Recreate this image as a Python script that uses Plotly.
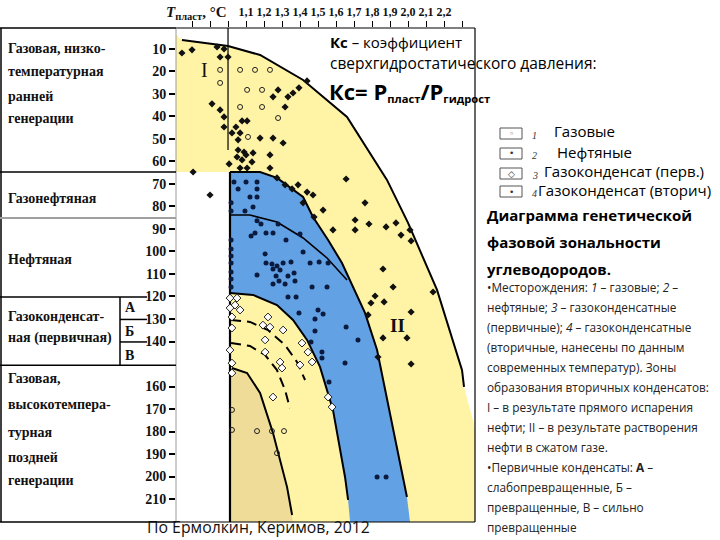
import plotly.graph_objects as go

# ---------------- data (Kc = P_pl / P_hydro, T = reservoir temperature, °C) ----------------
# zone boundaries
outer_kc = [0.700, 0.744, 1.000, 1.178, 1.417, 1.661, 1.883, 2.000, 2.161, 2.300, 2.311, 2.361, 2.420]
outer_t  = [3.0,   6.0,   8.7,   12.7,  23.8,  40.2,  68.2,  87.3,  117.1, 152.7, 160.2, 175.0, 200.0]
outer_line_n = 11

blue_kc = [1.011, 1.178, 1.272, 1.361, 1.417, 1.472, 1.556, 1.633, 1.694, 1.761, 1.828, 1.861, 1.917, 1.994, 2.011]
blue_t  = [64.7,  64.7,  67.3,  72.7,  75.8,  84.7,  94.9,  105.1, 115.8, 127.3, 143.8, 157.1, 178.0, 209.1, 220.2]
blue_line_n = 14

cond_kc = [1.011, 1.139, 1.272, 1.361, 1.439, 1.511, 1.583, 1.650, 1.667, 1.678]
cond_t  = [118.4, 119.3, 123.8, 130.4, 139.3, 151.3, 170.4, 200.2, 210.4, 220.2]
cond_line_n = 9

tan_kc = [1.022, 1.106, 1.178, 1.250, 1.328, 1.356, 1.361]
tan_t  = [151.8, 154.0, 162.9, 180.7, 204.7, 217.1, 220.2]
tan_line_n = 6

oil_div_kc = [1.011, 1.122, 1.272, 1.417, 1.550, 1.661]
oil_div_t  = [83.8,  83.8,  86.9,  94.0,  102.9, 112.7]

arc1_kc = [1.017, 1.122, 1.222, 1.317, 1.383, 1.428]
arc1_t  = [130.4, 131.3, 134.9, 141.6, 149.1, 157.1]
arc2_kc = [1.017, 1.122, 1.206, 1.272, 1.317, 1.344]
arc2_t  = [140.7, 142.0, 146.0, 152.7, 161.6, 169.6]

# deposits
gas_kc = [0.956, 0.956, 1.067, 1.150, 1.233, 1.106, 1.189, 1.067, 1.189, 1.278, 1.111,
          1.022, 1.022, 1.161, 1.244, 1.311, 1.272]
gas_t  = [19.3, 25.1, 19.3, 19.3, 19.3, 28.2, 28.2, 35.8, 35.8, 40.7, 49.1,
          170.4, 179.3, 179.8, 179.8, 179.8, 189.6]

oil_kc = [1.033, 1.100, 1.161, 1.056, 1.161, 1.122, 1.161, 1.017, 1.139, 1.094, 1.017, 1.161,
          1.183, 1.278, 1.150, 1.128, 1.211, 1.250, 1.322, 1.400, 1.017, 1.017, 1.206, 1.417,
          1.017, 1.017, 1.211, 1.244, 1.272, 1.306, 1.350, 1.456, 1.506, 1.556, 1.250, 1.289,
          1.333, 1.367, 1.161, 1.267, 1.017, 1.283, 1.372, 1.017, 1.250, 1.317, 1.467, 1.550,
          1.017, 1.333, 1.378, 1.394, 1.500, 1.528, 1.483, 1.656, 1.483, 1.722, 1.461, 1.522,
          1.522, 1.650, 1.561, 1.828, 1.878]
oil_t  = [69.1, 69.1, 69.1, 72.2, 72.2, 75.8, 75.8, 78.4, 80.2, 82.0, 82.0, 86.4,
          87.8, 87.8, 91.8, 93.1, 91.8, 91.8, 94.9, 92.2, 94.9, 98.9, 101.1, 100.2,
          102.0, 105.1, 105.1, 105.6, 106.4, 105.1, 104.7, 105.1, 104.7, 105.1, 107.8, 108.2,
          110.9, 109.6, 110.4, 110.9, 109.1, 113.1, 113.1, 112.2, 114.4, 114.4, 115.8, 115.8,
          115.8, 120.2, 120.2, 127.3, 126.0, 127.8, 130.0, 133.6, 135.3, 139.3, 140.2, 144.7,
          147.3, 149.6, 158.0, 200.2, 200.2]

prim_kc = [1.011, 1.050, 1.011, 1.039, 1.067, 1.022, 1.222, 1.194, 1.233, 1.306, 1.022, 1.206,
           1.411, 1.444, 1.206, 1.011, 1.289, 1.467, 1.022, 1.400, 1.300, 1.022, 1.556, 1.578, 1.250]
prim_t  = [120.7, 120.7, 125.1, 123.8, 126.0, 129.1, 129.1, 132.7, 133.6, 134.9, 134.0, 139.3,
           140.7, 144.7, 144.7, 143.8, 149.1, 149.1, 149.6, 150.4, 151.8, 154.0, 164.7, 169.1, 164.7]

sec_kc = [0.744, 0.800, 0.939, 0.978, 1.000, 0.956, 0.911, 0.956, 0.978, 0.978, 1.022, 1.044,
          1.078, 1.106, 1.067, 1.056, 1.178, 1.250, 1.306, 1.056, 1.050, 1.089, 1.100, 1.139,
          1.078, 1.133, 1.006, 1.067, 1.106, 1.233, 1.233, 1.278, 1.250, 1.333, 1.361, 1.394,
          1.439, 1.317, 0.806, 0.900, 1.656, 1.317, 1.356, 1.389, 1.439, 1.472, 1.272,
          1.417, 1.528, 1.478, 1.583, 1.761, 1.706, 1.783, 1.706, 1.878, 1.933, 1.961, 2.011,
          2.017, 1.861, 2.139, 1.917, 1.817, 1.794, 1.867, 2.017, 1.778, 1.994, 1.861, 1.833, 2.017]
sec_t  = [11.8, 10.4, 9.1, 10.0, 13.6, 13.6, 34.4, 37.1, 40.2, 44.7, 47.3, 44.7,
          42.0, 42.0, 47.3, 50.4, 49.6, 49.6, 51.8, 54.9, 58.0, 55.8, 57.1, 56.2,
          59.3, 60.2, 61.1, 62.9, 62.9, 57.1, 62.9, 28.2, 31.3, 31.3, 29.6, 27.3,
          24.2, 35.8, 64.7, 74.9, 67.8, 70.4, 72.2, 70.4, 73.6, 74.9, 67.3,
          78.4, 81.6, 84.7, 90.4, 78.4, 86.0, 87.8, 90.4, 89.1, 87.3, 92.7, 90.4,
          95.3, 107.8, 118.0, 115.8, 119.8, 122.9, 122.4, 126.9, 128.2, 138.4, 138.4, 146.9, 150.0]

# axis ticks
t_ticks = [10, 20, 30, 40, 50, 60, 70, 80, 90, 100, 110, 120, 130, 140, 160, 170, 180, 190, 200, 210]
kc_ticks = [1.1, 1.2, 1.3, 1.4, 1.5, 1.6, 1.7, 1.8, 1.9, 2.0, 2.1, 2.2]
kc_labels = ["1,1", "1,2", "1,3", "1,4", "1,5", "1,6", "1,7", "1,8", "1,9", "2,0", "2,1", "2,2"]
kc_minor = [0.8, 0.9, 1.0, 2.3]

# ---------------- figure ----------------
W, H = 720, 540
def px(x): return x / W
def py(y): return 1 - y / H

YELLOW = "#FFF4A6"
BLUE = "#62A1E4"
TAN = "#EEDC98"
SERIF = "Liberation Serif"
SANS = "Open Sans"

fig = go.Figure()

def add_fill(x, y, color):
    fig.add_trace(go.Scatter(x=x, y=y, mode="lines", fill="toself", fillcolor=color,
                             line=dict(width=0), hoverinfo="skip", showlegend=False))

def add_line(x, y, width=2, dash="solid"):
    fig.add_trace(go.Scatter(x=x, y=y, mode="lines", line=dict(color="black", width=width, dash=dash),
                             hoverinfo="skip", showlegend=False))

# zone fills
add_fill(outer_kc + [2.42, 1.011, 1.011, 0.70], outer_t + [225, 225, 64.7, 64.7], YELLOW)
add_fill(blue_kc + [2.011, 1.011], blue_t + [225, 225], BLUE)
add_fill(cond_kc + [1.678, 1.011], cond_t + [225, 225], YELLOW)
add_fill(tan_kc + [1.361, 1.011, 1.011], tan_t + [225, 225, 151.8], TAN)

# boundary lines
add_line(outer_kc[1:outer_line_n], outer_t[1:outer_line_n], 2)
add_line(blue_kc[:blue_line_n], blue_t[:blue_line_n], 2)
add_line(cond_kc[:cond_line_n], cond_t[:cond_line_n], 2)
add_line(tan_kc[:tan_line_n], tan_t[:tan_line_n], 2)
add_line(oil_div_kc, oil_div_t, 1.6)
add_line(arc1_kc, arc1_t, 2, "10px,6px")
add_line(arc2_kc, arc2_t, 2, "10px,6px")
add_line([1.0, 1.0], [0.0, 54.9], 1.2)
add_line([1.011, 1.011], [64.7, 220.2], 2.2)

# deposits
fig.add_trace(go.Scatter(x=gas_kc, y=gas_t, mode="markers", showlegend=False,
                         marker=dict(symbol="circle-open", size=5, color="#222", line=dict(width=1))))
fig.add_trace(go.Scatter(x=prim_kc, y=prim_t, mode="markers", showlegend=False,
                         marker=dict(symbol="diamond", size=6, color="white", line=dict(width=1, color="#222"))))
fig.add_trace(go.Scatter(x=oil_kc, y=oil_t, mode="markers", showlegend=False,
                         marker=dict(symbol="circle", size=5, color="#0B1B3F")))
fig.add_trace(go.Scatter(x=sec_kc, y=sec_t, mode="markers", showlegend=False,
                         marker=dict(symbol="diamond", size=5.5, color="#111")))

shapes = []
def hline_y(x0, x1, t, color="black", width=1.5):
    shapes.append(dict(type="line", xref="paper", yref="y", x0=px(x0), x1=px(x1), y0=t, y1=t,
                       line=dict(color=color, width=width)))
def pline(x0, y0, x1, y1, color="black", width=1.5):
    shapes.append(dict(type="line", xref="paper", yref="paper", x0=px(x0), x1=px(x1), y0=py(y0), y1=py(y1),
                       line=dict(color=color, width=width)))

# plot frame
pline(176, 28, 475, 28, width=1.2)
pline(176, 522, 475, 522, width=1.2)
pline(475, 28, 475, 522, width=1.2)
pline(176, 28, 176, 522, color="#9a9a9a", width=1)
# left table
pline(0, 28, 176, 28, width=1.5)
pline(0, 522, 176, 522, width=1.5)
pline(1, 28, 1, 522, width=1.5)
hline_y(0, 176, 64.7)
hline_y(0, 176, 85.1, color="#a0a0a0", width=2)
hline_y(0, 147, 120.2)
hline_y(120, 147, 130.2)
hline_y(120, 147, 140.2)
hline_y(0, 176, 150.6)
shapes.append(dict(type="line", xref="paper", yref="y", x0=px(120), x1=px(120), y0=120.2, y1=150.6,
                   line=dict(color="black", width=1.5)))

# legend boxes
for y0 in [128, 148, 168, 186]:
    shapes.append(dict(type="rect", xref="paper", yref="paper", x0=px(500), x1=px(522), y0=py(y0), y1=py(y0 + 11),
                       line=dict(color="#555", width=1), fillcolor="white"))

ann = []
def text(x, y, s, size, family=SANS, color="black", xanchor="left", bold=False, pad=1):
    if bold:
        s = "<b>" + s + "</b>"
    ann.append(dict(xref="paper", yref="paper", x=px(x), y=py(y), text=s, showarrow=False, borderpad=pad,
                    xanchor=xanchor, yanchor="middle", font=dict(size=size, family=family, color=color)))

# left table texts
for s, y in [("Газовая, низко-", 48), ("температурная", 72), ("ранней", 96), ("генерации", 118),
             ("Газонефтяная", 198), ("Нефтяная", 260), ("Газоконденсат-", 316), ("ная (первичная)", 338),
             ("Газовая,", 378), ("высокотемпера-", 404), ("турная", 432), ("поздней", 457), ("генерации", 480)]:
    text(6, y, s, 14, SERIF, "#111", bold=True)
for s, y in [("А", 307), ("Б", 331), ("В", 355)]:
    text(123, y, s, 14, SERIF, "#111", bold=True)

# axis title
text(164, 13, "<i>T</i><sub>пласт</sub>, °C", 15, SERIF, "#111", bold=True)

# zone labels
ann.append(dict(xref="x", yref="y", x=0.872, y=19.3, text="I", showarrow=False,
                font=dict(size=20, family=SERIF, color="#111")))
ann.append(dict(xref="x", yref="y", x=1.944, y=132.7, text="<b>II</b>", showarrow=False,
                font=dict(size=19, family=SERIF, color="#111")))

# Kc definition
text(328, 42, "<b>Кс</b> – коэффициент", 15)
text(328, 63, "сверхгидростатического давления:", 15.5)
text(327, 91, "<b>Кс= Р<span style='font-size:16px'><sub>пласт</sub></span>/Р"
              "<span style='font-size:16px'><sub>гидрост</sub></span></b>", 22)

# legend
for s, y in [("1", 135), ("2", 156), ("3", 175), ("4", 193)]:
    text(530, y, "<i>" + s + "</i>", 10, SERIF, "#333")
for s, y in [("◦", 133.5), ("•", 153.5), ("◇", 173.5), ("•", 191.5)]:
    text(511, y, s, 9, "DejaVu Sans", "#333", xanchor="center")
text(553, 131, "Газовые", 15, pad=0)
text(556, 152, "Нефтяные", 15, pad=0)
text(543, 171, "Газоконденсат (перв.)", 15, pad=0)
text(537, 190, "Газоконденсат (вторич)", 15, pad=0)

# title block
text(485, 215, "Диаграмма генетической", 15, bold=True)
text(485, 242, "фазовой зональности", 15, bold=True)
text(485, 269, "углеводородов.", 15, bold=True)

para = ["•Месторождения: <i>1</i> – газовые; <i>2</i> –",
        "нефтяные; <i>3</i> – газоконденсатные",
        "(первичные); <i>4</i> – газоконденсатные",
        "(вторичные, нанесены по данным",
        "современных температур). Зоны",
        "образования вторичных конденсатов:",
        "I – в результате прямого испарения",
        "нефти; II – в результате растворения",
        "нефти в сжатом газе.",
        "•Первичные конденсаты: <b>А</b> –",
        "слабопревращенные, Б –",
        "превращенные, В – сильно",
        "превращенные"]
for i, s in enumerate(para):
    text(485, 287 + 20.0 * i, s, 11.8, SANS, "#222")

text(145, 527, "По Ермолкин, Керимов, 2012", 15.8, SANS, "#111")

fig.update_layout(
    width=W, height=H, margin=dict(l=0, r=0, t=0, b=0),
    paper_bgcolor="white", plot_bgcolor="white",
    shapes=shapes, annotations=ann, showlegend=False,
    xaxis=dict(domain=[px(176), px(475)], range=[0.711, 2.372], side="top",
               tickvals=kc_ticks, ticktext=["<b>" + t + "</b>" for t in kc_labels],
               ticks="outside", ticklen=6, tickcolor="black", tickwidth=1,
               minor=dict(tickvals=kc_minor, ticks="outside", ticklen=6, tickcolor="black", tickwidth=1),
               tickfont=dict(family=SERIF, size=12, color="#111"),
               showgrid=False, zeroline=False, showline=False),
    yaxis=dict(domain=[py(522), py(28)], range=[220.2, 0.7],
               tickvals=t_ticks, ticktext=["<b>%d</b>" % t for t in t_ticks],
               ticks="outside", ticklen=6, tickcolor="black", tickwidth=1.5,
               tickfont=dict(family=SERIF, size=14, color="#111"),
               showgrid=False, zeroline=False, showline=False),
)

fig.write_html("out.html", config={"displayModeBar": False},
               post_script="document.body.style.margin='0';document.body.style.overflow='hidden';")
